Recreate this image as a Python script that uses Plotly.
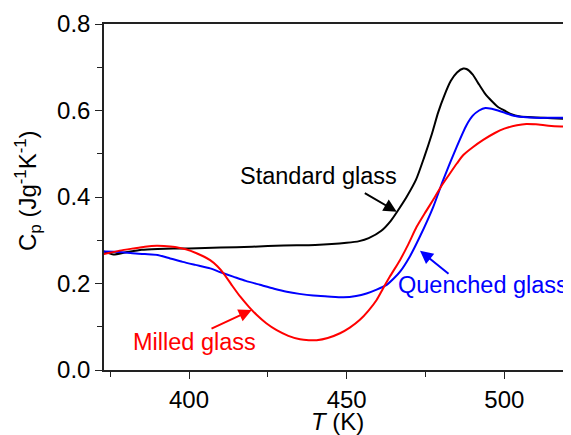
import plotly.graph_objects as go

# Standard glass (black)
T_std = [373, 376, 380, 385, 390, 395, 400, 410, 420, 430, 440, 450, 454, 457, 461, 464, 466,
         469, 472, 474.5, 477, 479, 481, 483, 485, 487, 488, 490, 492, 494, 496, 498, 500,
         502, 505, 510, 515, 521.5]
cp_std = [0.274, 0.267, 0.272, 0.278, 0.280, 0.281, 0.281, 0.283, 0.285, 0.288, 0.289, 0.294,
          0.298, 0.305, 0.322, 0.345, 0.366, 0.400, 0.440, 0.490, 0.545, 0.595, 0.635, 0.668,
          0.688, 0.697, 0.696, 0.683, 0.660, 0.638, 0.622, 0.608, 0.600, 0.592, 0.586, 0.584,
          0.582, 0.580]

# Quenched glass (blue)
T_q = [373, 378, 382, 386, 390, 394, 398, 402, 406.7, 410, 414, 418, 422.5, 427, 431, 435,
       439.4, 444, 449, 453, 456.3, 459.5, 462.7, 465, 467, 470, 473.2, 477.5, 480.6, 484.9,
       488, 490, 492, 494, 496, 498, 500, 503, 506, 510, 515, 521.5]
cp_q = [0.274, 0.273, 0.270, 0.268, 0.266, 0.258, 0.250, 0.243, 0.235, 0.226, 0.216, 0.206,
        0.197, 0.188, 0.181, 0.176, 0.172, 0.170, 0.168, 0.171, 0.177, 0.186, 0.197, 0.212,
        0.228, 0.262, 0.308, 0.378, 0.439, 0.516, 0.566, 0.588, 0.600, 0.606, 0.604, 0.600,
        0.595, 0.588, 0.585, 0.583, 0.583, 0.583]

# Milled glass (red)
T_m = [373, 378, 382.3, 386, 389.8, 393, 396, 399, 402.4, 404.5, 406.7, 409, 410.9, 413.5,
       416.2, 419, 421.5, 424.5, 427.8, 431.5, 435.2, 438, 440.5, 444, 447.9, 451, 454.2, 457,
       459.5, 461.5, 463.7, 466.9, 469.5, 472.2, 475, 477.4, 480, 482.8, 485, 487, 490, 493.3,
       497, 500, 504, 507, 510, 514, 518, 521.5]
cp_m = [0.268, 0.276, 0.281, 0.285, 0.287, 0.286, 0.284, 0.279, 0.270, 0.263, 0.254, 0.240,
        0.224, 0.197, 0.170, 0.146, 0.127, 0.108, 0.092, 0.079, 0.071, 0.069, 0.069, 0.074,
        0.085, 0.098, 0.116, 0.138, 0.162, 0.188, 0.216, 0.254, 0.290, 0.331, 0.365, 0.393,
        0.425, 0.455, 0.478, 0.497, 0.515, 0.532, 0.548, 0.558, 0.566, 0.569, 0.568, 0.565,
        0.563, 0.562]

x_ticks = [400, 450, 500]
y_ticks = [0.0, 0.2, 0.4, 0.6, 0.8]

FONT = "Arial, Liberation Sans, sans-serif"

fig = go.Figure()
fig.add_trace(go.Scatter(x=T_std, y=cp_std, mode="lines",
                         line=dict(color="#000000", width=2, shape="spline", smoothing=0.6)))
fig.add_trace(go.Scatter(x=T_q, y=cp_q, mode="lines",
                         line=dict(color="#0000ff", width=2, shape="spline", smoothing=0.6)))
fig.add_trace(go.Scatter(x=T_m, y=cp_m, mode="lines",
                         line=dict(color="#ff0000", width=2, shape="spline", smoothing=0.6)))

# labels
fig.add_annotation(x=441.07, y=0.4497, text="Standard glass", showarrow=False,
                   font=dict(family=FONT, size=23.5, color="#000000"), xanchor="center", yanchor="middle")
fig.add_annotation(x=520.8, y=0.196, text="Quenched glass", showarrow=False,
                   font=dict(family=FONT, size=23.5, color="#0000ff"), xanchor="right", yanchor="middle")
fig.add_annotation(x=401.59, y=0.0647, text="Milled glass", showarrow=False,
                   font=dict(family=FONT, size=23.5, color="#ff0000"), xanchor="center", yanchor="middle")

# arrows
for (hx, hy, tx, ty, col) in [(465.87, 0.366, 455.28, 0.411, "#000000"),
                              (473.26, 0.2758, 482.78, 0.2197, "#0000ff"),
                              (419.89, 0.1387, 406.66, 0.0941, "#ff0000")]:
    fig.add_annotation(x=hx, y=hy, ax=tx, ay=ty, xref="x", yref="y", axref="x", ayref="y",
                       text="", showarrow=True, arrowhead=2, arrowsize=1.3, arrowwidth=2,
                       arrowcolor=col)

# axis titles
fig.add_annotation(x=0.5, y=-0.148, xref="paper", yref="paper", text="<i>T</i> (K)",
                   showarrow=False, font=dict(family=FONT, size=24), xanchor="center", yanchor="middle")
fig.add_annotation(x=-0.163, y=0.52, xref="paper", yref="paper",
                   text="C<sub>p</sub> (Jg<sup>-1</sup>K<sup>-1</sup>)", textangle=-90,
                   showarrow=False, font=dict(family=FONT, size=24), xanchor="center", yanchor="middle")

# page body has an 8px margin: figure is sized so that it fills the 571x435 window
fig.update_layout(
    width=563, height=427,
    margin=dict(l=96, r=0, t=16, b=65, autoexpand=False),
    paper_bgcolor="white", plot_bgcolor="white",
    showlegend=False,
    font=dict(family=FONT, size=24, color="#000000"),
)
fig.update_xaxes(
    range=[373.04, 521.15], tickvals=x_ticks, ticktext=[str(v) for v in x_ticks],
    ticks="outside", ticklen=7, tickwidth=1.3, tickcolor="#222", automargin=False,
    showline=True, linecolor="#222", linewidth=1.5, mirror=True,
    showgrid=False, zeroline=False,
    minor=dict(ticks="outside", ticklen=5, tickwidth=1.3, tickcolor="#222", dtick=25, tick0=375, showgrid=False),
    tickfont=dict(family=FONT, size=24),
)
fig.update_yaxes(
    range=[0, 0.8], tickvals=y_ticks, ticktext=["%.1f" % v for v in y_ticks],
    ticks="outside", ticklen=7, tickwidth=1.3, tickcolor="#222", automargin=False,
    showline=True, linecolor="#222", linewidth=1.5, mirror=False,
    showgrid=False, zeroline=False,
    minor=dict(ticks="outside", ticklen=5, tickwidth=1.3, tickcolor="#222", dtick=0.1, tick0=0, showgrid=False),
    tickfont=dict(family=FONT, size=24),
)

fig.write_html("out.html")
